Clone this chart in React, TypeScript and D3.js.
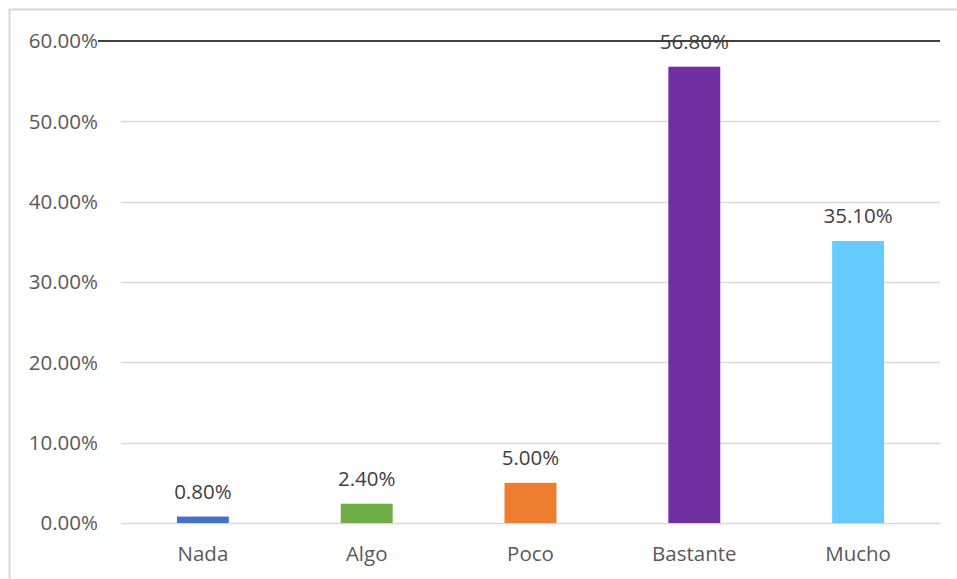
import React from "react";
import * as d3 from "d3";

const categories = ["Nada", "Algo", "Poco", "Bastante", "Mucho"];
const values = [0.8, 2.4, 5.0, 56.8, 35.1];
const colors = ["#4472C4", "#70AD47", "#ED7D31", "#7030A0", "#66CCFF"];
const yTicks = [0, 10, 20, 30, 40, 50, 60];

const W = 957;
const H = 579;
const left = 121;
const right = 940;
const top = 41;
const bottom = 523;
const FONT = "'Open Sans', 'Noto Sans', sans-serif";

export default function App() {
  const x = d3.scaleBand<string>().domain(categories).range([left, right]).paddingInner(0.683).paddingOuter(0.3415);
  const y = d3.scaleLinear().domain([0, 60]).range([bottom, top]);
  const fmt = (v: number) => v.toFixed(2) + "%";
  return (
    <svg width={W} height={H} style={{ position: "absolute", left: 0, top: 0 }}>
      <rect x={0} y={0} width={W} height={H} fill="#fff" />
      <rect x={9.5} y={9.5} width={W + 10} height={H + 10} fill="none" stroke="#d9d9d9" strokeWidth={2} />
      {yTicks.map((t) => (
        <g key={t}>
          {t < 60 && (
            <line x1={left} x2={right} y1={Math.round(y(t)) + 0.5} y2={Math.round(y(t)) + 0.5} stroke="#d9d9d9" strokeWidth={1.5} />
          )}
          <text x={98} y={y(t)} dy="0.35em" textAnchor="end" fontFamily={FONT} fontSize={20.5} fill="#595959">
            {fmt(t)}
          </text>
        </g>
      ))}
      {categories.map((c, i) => (
        <g key={c}>
          <rect x={x(c)} y={y(values[i])} width={x.bandwidth()} height={y(0) - y(values[i])} fill={colors[i]} />
          <text x={(x(c) as number) + x.bandwidth() / 2} y={y(values[i]) - 18} textAnchor="middle" fontFamily={FONT} fontSize={20.5} fill="#404040">
            {fmt(values[i])}
          </text>
          <text x={(x(c) as number) + x.bandwidth() / 2} y={561} textAnchor="middle" fontFamily={FONT} fontSize={20.5} fill="#595959">
            {c}
          </text>
        </g>
      ))}
      <line x1={98} x2={right} y1={y(60)} y2={y(60)} stroke="#404040" strokeWidth={2} />
    </svg>
  );
}
